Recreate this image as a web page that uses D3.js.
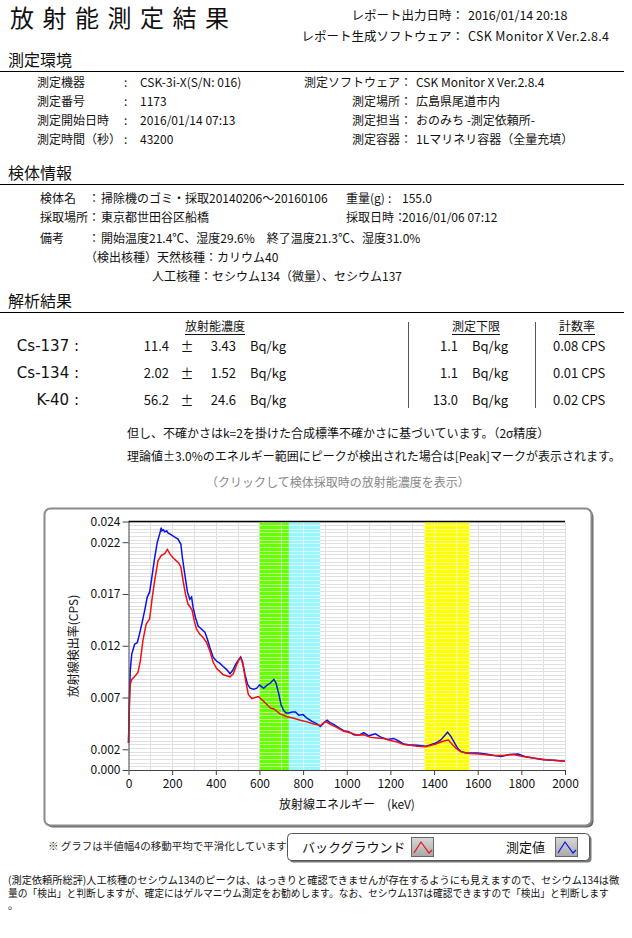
<!DOCTYPE html>
<html>
<head>
<meta charset="utf-8">
<script src="https://cdn.jsdelivr.net/npm/d3@7"></script>
<style>
  body { margin: 0; background: #fff; }
  text { font-family: "Noto Sans CJK JP", "Noto Sans", sans-serif; fill: #111; }
</style>
</head>
<body>
<div id="app"></div>
<script>
// spectrum (keV, CPS)
const measuredKeV = [0, 5, 8, 15, 28, 40, 50, 61, 74, 86, 97, 109, 120, 132, 143, 150, 153, 160, 166, 175, 181, 196, 212, 227, 240, 247, 258, 270, 281, 289, 296, 307, 319, 335, 350, 362, 373, 388, 404, 419, 434, 450, 465, 477, 491, 503, 514, 523, 534, 545, 557, 573, 588, 600, 619, 635, 650, 666, 676, 689, 699, 711, 722, 734, 750, 765, 780, 800, 818, 841, 864, 879, 895, 910, 925, 940, 963, 986, 1009, 1032, 1055, 1078, 1101, 1131, 1154, 1185, 1215, 1238, 1261, 1284, 1322, 1362, 1385, 1408, 1431, 1446, 1462, 1477, 1492, 1508, 1523, 1546, 1569, 1600, 1638, 1677, 1708, 1746, 1785, 1815, 1854, 1900, 1946, 2000];
const measuredCps = [0.0026, 0.0075, 0.0096, 0.0112, 0.01215, 0.0123, 0.0131, 0.0141, 0.0154, 0.0167, 0.0172, 0.0189, 0.0205, 0.022, 0.0228, 0.0234, 0.0231, 0.0232, 0.023, 0.0231, 0.0229, 0.0227, 0.0225, 0.0223, 0.0218, 0.0205, 0.0189, 0.0172, 0.0165, 0.0167, 0.0157, 0.0147, 0.0139, 0.0136, 0.0133, 0.0126, 0.0118, 0.0109, 0.0105, 0.0103, 0.01, 0.0097, 0.0093, 0.0096, 0.0102, 0.0106, 0.0109, 0.0104, 0.0092, 0.0083, 0.0079, 0.0078, 0.0079, 0.0082, 0.0079, 0.0082, 0.0084, 0.00875, 0.0084, 0.0073, 0.0063, 0.00575, 0.0055, 0.0055, 0.0056, 0.0056, 0.0053, 0.00535, 0.005, 0.0047, 0.00445, 0.0042, 0.00455, 0.0048, 0.00455, 0.0044, 0.0041, 0.0038, 0.0037, 0.0034, 0.00335, 0.0036, 0.0033, 0.0035, 0.0032, 0.00295, 0.00305, 0.0028, 0.0025, 0.00245, 0.0024, 0.0023, 0.00245, 0.0026, 0.0029, 0.00325, 0.00365, 0.00325, 0.0027, 0.0021, 0.0018, 0.00165, 0.00165, 0.00165, 0.00155, 0.0014, 0.0013, 0.0015, 0.00155, 0.0013, 0.00115, 0.001, 0.00093, 0.00085];
const backgroundKeV = [0, 5, 8, 15, 31, 43, 54, 66, 81, 97, 109, 120, 135, 150, 166, 178, 189, 204, 219, 230, 240, 250, 261, 273, 284, 292, 301, 312, 327, 342, 358, 373, 388, 404, 419, 434, 450, 465, 480, 493, 507, 516, 526, 537, 549, 565, 580, 595, 611, 626, 649, 666, 696, 727, 757, 788, 818, 849, 879, 902, 925, 956, 986, 1017, 1047, 1078, 1109, 1139, 1170, 1200, 1231, 1261, 1292, 1322, 1362, 1408, 1431, 1454, 1466, 1482, 1500, 1523, 1562, 1608, 1669, 1715, 1762, 1808, 1854, 1915, 2000];
const backgroundCps = [0.0026, 0.007, 0.0083, 0.00875, 0.0091, 0.0094, 0.0105, 0.0125, 0.0141, 0.0146, 0.0167, 0.0183, 0.0202, 0.0207, 0.0209, 0.0213, 0.0209, 0.0205, 0.0202, 0.02, 0.0196, 0.0183, 0.017, 0.016, 0.0157, 0.0154, 0.0144, 0.0136, 0.0131, 0.0128, 0.0123, 0.0115, 0.0104, 0.0098, 0.0095, 0.0092, 0.0091, 0.009, 0.0093, 0.01, 0.0107, 0.0108, 0.01, 0.0086, 0.0073, 0.0069, 0.007, 0.0071, 0.0068, 0.0065, 0.006, 0.0059, 0.0054, 0.00515, 0.005, 0.0048, 0.00465, 0.00445, 0.0043, 0.0047, 0.0044, 0.0041, 0.00375, 0.0036, 0.00335, 0.0034, 0.00315, 0.0031, 0.00305, 0.00285, 0.0027, 0.00245, 0.0024, 0.0023, 0.00225, 0.0025, 0.0027, 0.00285, 0.0029, 0.0025, 0.0021, 0.00175, 0.0016, 0.00155, 0.0014, 0.0014, 0.0015, 0.0013, 0.00115, 0.001, 0.00085];

// regions of interest (keV)
const roiStart = [600, 735, 1357];
const roiEnd = [735, 878, 1562];

const xTickValues = [0, 200, 400, 600, 800, 1000, 1200, 1400, 1600, 1800, 2000];
const yTickValues = [0, 0.002, 0.007, 0.012, 0.017, 0.022, 0.024];

// result table
const nuclides = ["Cs-137 :", "Cs-134 :", "K-40 :"];
const activity = ["11.4", "2.02", "56.2"];
const uncertainty = ["3.43", "1.52", "24.6"];
const detectionLimit = ["1.1", "1.1", "13.0"];
const countRate = ["0.08 CPS", "0.01 CPS", "0.02 CPS"];

const width = 632, height = 938;
const svg = d3.select("#app").append("svg").attr("width", width).attr("height", height);
svg.append("rect").attr("width", width).attr("height", height).attr("fill", "#fff");

function txt(x, y, s, size, anchor) {
  return svg.append("text").attr("x", x).attr("y", y).attr("font-size", size)
    .attr("text-anchor", anchor || "start").text(s);
}

// HEADER
txt(10, 27, "放射能測定結果", 24).attr("letter-spacing", 8.5);
txt(464, 20, "レポート出力日時：", 12.5, "end");
txt(468, 20, "2016/01/14 20:18", 12.5);
txt(464, 41, "レポート生成ソフトウェア：", 12.5, "end");
txt(468, 41, "CSK Monitor X Ver.2.8.4", 12.5).attr("textLength", 141);

function section(y, title) {
  txt(8, y, title, 16);
  svg.append("line").attr("x1", 0).attr("x2", 624).attr("y1", y + 5.5).attr("y2", y + 5.5)
    .attr("stroke", "#000").attr("stroke-width", 1);
}

// 測定環境
section(66, "測定環境");
const envL = ["測定機器", "測定番号", "測定開始日時", "測定時間（秒）"];
const envLV = ["CSK-3i-X(S/N: 016)", "1173", "2016/01/14 07:13", "43200"];
const envR = ["測定ソフトウェア：", "測定場所：", "測定担当：", "測定容器："];
const envRV = ["CSK Monitor X Ver.2.8.4", "広島県尾道市内", "おのみち -測定依頼所-", "1Lマリネリ容器（全量充填）"];
envL.forEach((d, i) => {
  const yy = 87 + i * 19;
  txt(37, yy, d, 12);
  txt(124, yy, ":", 12);
  txt(140, yy, envLV[i], 12);
  txt(412, yy, envR[i], 12, "end");
  txt(416, yy, envRV[i], 12);
});

// 検体情報
section(179, "検体情報");
txt(40, 203, "検体名", 12); txt(88, 203, "：", 12); txt(101, 203, "掃除機のゴミ・採取20140206～20160106", 12);
txt(346, 203, "重量(g)", 12); txt(388, 203, ":", 12); txt(402, 203, "155.0", 12);
txt(40, 222, "採取場所：", 12); txt(101, 222, "東京都世田谷区船橋", 12);
txt(346, 222, "採取日時：", 12); txt(402, 222, "2016/01/06 07:12", 12);
txt(40, 243, "備考", 12); txt(88, 243, "：", 12); txt(101, 243, "開始温度21.4℃、湿度29.6%　終了温度21.3℃、湿度31.0%", 12);
txt(85, 262, "（検出核種）天然核種：カリウム40", 12);
txt(152, 281, "人工核種：セシウム134（微量）、セシウム137", 12);

// 解析結果
section(307, "解析結果");
[["放射能濃度", 215], ["測定下限", 476], ["計数率", 577]].forEach(([s, cx]) => {
  txt(cx, 331, s, 12, "middle");
  svg.append("line").attr("x1", cx - s.length * 6).attr("x2", cx + s.length * 6)
    .attr("y1", 334.5).attr("y2", 334.5).attr("stroke", "#111");
});
[408, 535].forEach(xx => svg.append("line").attr("x1", xx + 0.5).attr("x2", xx + 0.5)
  .attr("y1", 322).attr("y2", 408).attr("stroke", "#555"));
nuclides.forEach((d, i) => {
  const yy = 351 + i * 27;
  txt(79, yy, d, 15, "end").style("font-family", '"DejaVu Sans", sans-serif');
  txt(169, yy, activity[i], 13, "end");
  txt(187, yy, "±", 13, "middle");
  txt(236, yy, uncertainty[i], 13, "end");
  txt(250, yy, "Bq/kg", 13);
  txt(458, yy, detectionLimit[i], 13, "end");
  txt(472, yy, "Bq/kg", 13);
  txt(553, yy, countRate[i], 13);
});

txt(127, 438, "但し、不確かさはk=2を掛けた合成標準不確かさに基づいています。（2σ精度）", 12);
txt(127, 461, "理論値±3.0%のエネルギー範囲にピークが検出された場合は[Peak]マークが表示されます。", 12);
txt(206, 487, "（クリックして検体採取時の放射能濃度を表示）", 12).style("fill", "#888");

// CHART FRAME
svg.append("rect").attr("x", 46.5).attr("y", 510.5).attr("width", 547).attr("height", 317).attr("rx", 6).attr("fill", "#666");
svg.append("rect").attr("x", 44.5).attr("y", 508.5).attr("width", 547).attr("height", 317).attr("rx", 6)
  .attr("fill", "#fff").attr("stroke", "#8a8a8a").attr("stroke-width", 2);

const x = d3.scaleLinear().domain([0, 2000]).range([128.5, 565]);
const y = d3.scaleLinear().domain([0, 0.024]).range([770, 521.5]);

const plot = svg.append("g");
const hGrid = d3.range(0, 0.024 + 1e-9, 0.024 / 68);
const vGrid = d3.range(100, 2001, 100);

function grid(g, color) {
  g.selectAll(".h").data(hGrid).join("line").attr("class", "h")
    .attr("x1", x(0)).attr("x2", x(2000)).attr("y1", d => Math.round(y(d)) + 0.5).attr("y2", d => Math.round(y(d)) + 0.5)
    .attr("stroke", color);
  g.selectAll(".v").data(vGrid).join("line").attr("class", "v")
    .attr("x1", d => Math.round(x(d)) + 0.5).attr("x2", d => Math.round(x(d)) + 0.5).attr("y1", y(0.024)).attr("y2", y(0))
    .attr("stroke", color);
}
grid(plot.append("g"), "#e0e0e0");

// ROI bands
const bandColors = ["#66ff00", "#99f6ff", "#ffff00"];
svg.append("clipPath").attr("id", "roiClip").selectAll("rect").data(roiStart).join("rect")
  .attr("x", (d, i) => x(d)).attr("width", (d, i) => x(roiEnd[i]) - x(d))
  .attr("y", y(0.024)).attr("height", y(0) - y(0.024));
plot.selectAll(".roi").data(roiStart).join("rect").attr("class", "roi")
  .attr("x", (d, i) => x(d)).attr("width", (d, i) => x(roiEnd[i]) - x(d))
  .attr("y", y(0.024)).attr("height", y(0) - y(0.024))
  .attr("fill", (d, i) => bandColors[i]);
grid(plot.append("g").attr("clip-path", "url(#roiClip)"), "rgba(255,255,255,0.55)");

// axes
const yAxis = svg.append("g").attr("transform", `translate(${x(0)},0)`)
  .call(d3.axisLeft(y).tickValues(yTickValues).tickFormat(d3.format(".3f")).tickSize(6).tickSizeOuter(0));
const xAxis = svg.append("g").attr("transform", `translate(0,${y(0)})`)
  .call(d3.axisBottom(x).tickValues(xTickValues).tickFormat(d => d).tickSize(5).tickSizeOuter(0));
[yAxis, xAxis].forEach(a => {
  a.select(".domain").attr("stroke", "#444");
  a.selectAll(".tick line").attr("stroke", "#444");
  a.selectAll("text").attr("font-size", 12).style("fill", "#111")
    .style("font-family", '"Noto Sans CJK JP", sans-serif');
});
yAxis.selectAll("text").attr("x", -8);
xAxis.selectAll("text").attr("y", 9);
svg.append("line").attr("x1", x(0)).attr("x2", x(2000)).attr("y1", y(0.024)).attr("y2", y(0.024))
  .attr("stroke", "#000").attr("stroke-width", 1.5);

svg.append("text").attr("transform", "translate(78,646) rotate(-90)").attr("text-anchor", "middle")
  .attr("font-size", 12).text("放射線検出率(CPS)");
txt(347, 809, "放射線エネルギー　(keV)", 12, "middle");

// spectra
const line = d3.line().x(d => x(d[0])).y(d => y(d[1]));
plot.append("path").datum(d3.zip(measuredKeV, measuredCps)).attr("d", line)
  .attr("fill", "none").attr("stroke", "#0a14e6").attr("stroke-width", 1.5);
plot.append("path").datum(d3.zip(backgroundKeV, backgroundCps)).attr("d", line)
  .attr("fill", "none").attr("stroke", "#f01010").attr("stroke-width", 1.5);

// footnote + legend
txt(48, 850, "※ グラフは半値幅4の移動平均で平滑化しています", 10.5).style("fill", "#222");
svg.append("rect").attr("x", 289.5).attr("y", 835.5).attr("width", 302).attr("height", 27).attr("rx", 4).attr("fill", "#777");
svg.append("rect").attr("x", 287.5).attr("y", 833.5).attr("width", 302).attr("height", 27).attr("rx", 4)
  .attr("fill", "#fff").attr("stroke", "#555");
const grad = svg.append("defs").append("linearGradient").attr("id", "iconGrad").attr("x2", 0).attr("y2", 1);
grad.append("stop").attr("offset", 0).attr("stop-color", "#d8d8d8");
grad.append("stop").attr("offset", 1).attr("stop-color", "#a8a8a8");
txt(302, 852, "バックグラウンド", 13);
txt(506, 852, "測定値", 13);
[[411, "#f01010"], [555, "#0a14e6"]].forEach(([ix, c]) => {
  svg.append("rect").attr("x", ix + 0.5).attr("y", 837.5).attr("width", 22).attr("height", 19)
    .attr("fill", "url(#iconGrad)").attr("stroke", "#666");
  svg.append("polyline").attr("points", `${ix + 3},${853} ${ix + 10},${842} ${ix + 18},${853} ${ix + 21},${850}`)
    .attr("fill", "none").attr("stroke", c).attr("stroke-width", 1.2);
});

// comment: condensed text, squeezed horizontally to the page width
[["(測定依頼所総評)人工核種のセシウム134のピークは、はっきりと確認できませんが存在するようにも見えますので、セシウム134は微", 612],
 ["量の「検出」と判断しますが、確定にはゲルマニウム測定をお勧めします。なお、セシウム137は確認できますので「検出」と判断します", 602]]
  .forEach(([s, w], i) => {
    const g = svg.append("g");
    const t = g.append("text").attr("x", 0).attr("y", 0).attr("font-size", 10.5).text(s);
    const k = w / t.node().getComputedTextLength();
    g.attr("transform", `translate(8,${884 + i * 13}) scale(${k},1)`);
  });
txt(8, 909, "。", 10.5);
</script>
</body>
</html>
